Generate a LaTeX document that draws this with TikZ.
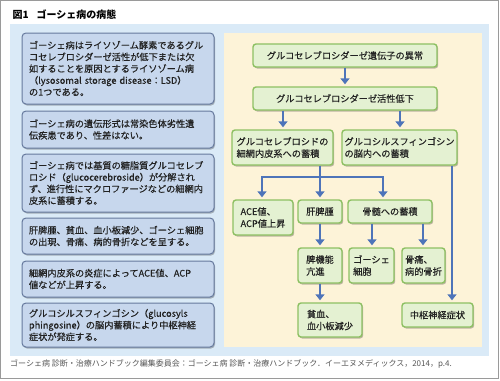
\documentclass[tikz,border=0pt]{standalone}
\usepackage{fontspec}
\setmainfont{Noto Sans CJK JP}
\newfontface\medfont{Noto Sans CJK JP}[FakeBold=0.35]
\usetikzlibrary{arrows.meta,shadows}
\definecolor{frame}{HTML}{9A9A9A}
\definecolor{panelblue}{HTML}{DAEAF7}
\definecolor{cream}{HTML}{FDF3D8}
\definecolor{lbfill}{HTML}{C7D7ED}
\definecolor{lbdraw}{HTML}{66799D}
\definecolor{gfill}{HTML}{E4F1D2}
\definecolor{gdraw}{HTML}{8DC062}
\definecolor{arrowblue}{HTML}{4E74B9}
\definecolor{txt}{HTML}{222222}
\definecolor{foot}{HTML}{555555}
\tikzset{
  leftbox/.style={draw=lbdraw, line width=1pt, fill=lbfill, rounded corners=4pt,
    minimum width=192pt, text width=178pt, align=left, inner sep=0pt, text=txt,
    font=\medfont\fontsize{9.2}{11.7}\selectfont,
    drop shadow={shadow xshift=1pt, shadow yshift=-1.5pt, fill=black, opacity=0.25}},
  gbox/.style={draw=gdraw, line width=1.4pt, fill=gfill, rounded corners=3pt,
    inner sep=0pt, align=left, text=txt,
    font=\medfont\fontsize{9.2}{12}\selectfont,
    drop shadow={shadow xshift=1.2pt, shadow yshift=-1.5pt, fill=black, opacity=0.25}},
  ln/.style={draw=arrowblue, line width=2.6pt},
  arr/.style={ln, -{Triangle[width=9pt,length=6pt]}},
}
\begin{document}
\begin{tikzpicture}[x=1pt,y=-1pt]
\useasboundingbox (0,0) rectangle (500,380);
\draw[frame, line width=1pt] (0.5,0.5) rectangle (498.5,378.5);
\node[anchor=west, font=\fontsize{10}{12}\selectfont\bfseries] (title) at (9,15) {図1\hspace{0.8em}ゴーシェ病の病態};
\fill[panelblue] (10,24) rectangle (489,356);
\fill[cream] (224,33) rectangle (482,347);

% left column
\node[leftbox, minimum height=71pt] (l1) at (118,68.5) {ゴーシェ病はライソゾーム酵素であるグル\\コセレブロシダーゼ活性が低下または欠\\如することを原因とするライソゾーム病\\\makebox[175pt][s]{（lysosomal storage disease：LSD）}\\の1つである。};
\node[leftbox, minimum height=37pt] (l2) at (118,129.5) {ゴーシェ病の遺伝形式は常染色体劣性遺\\伝疾患であり、性差はない。};
\node[leftbox, minimum height=58pt] (l3) at (118,183) {ゴーシェ病では基質の糖脂質グルコセレブ\\ロシド（glucocerebroside）が分解され\\ず、進行性にマクロファージなどの細網内\\皮系に蓄積する。};
\node[leftbox, minimum height=36pt] (l4) at (118,236) {肝脾腫、貧血、血小板減少、ゴーシェ細胞\\の出現、骨痛、病的骨折などを呈する。};
\node[leftbox, minimum height=36pt] (l5) at (118,279) {細網内皮系の炎症によってACE値、ACP\\値などが上昇する。};
\node[leftbox, minimum height=44pt] (l6) at (118,325) {グルコシルスフィンゴシン（glucosyls\\phingosine）の脳内蓄積により中枢神経\\症状が発症する。};

% flowchart
\node[gbox, minimum width=184pt, minimum height=23pt] (A) at (345,55.5) {グルコセレブロシダーゼ遺伝子の異常};
\node[gbox, minimum width=184pt, minimum height=23pt] (B) at (345,98.5) {グルコセレブロシダーゼ活性低下};
\node[gbox, minimum width=101pt, minimum height=35pt] (C) at (282.5,147.5) {グルコセレブロシドの\\細網内皮系への蓄積};
\node[gbox, minimum width=115pt, minimum height=35pt] (D) at (399.5,147.5) {グルコシルスフィンゴシン\\の脳内への蓄積};
\node[gbox, minimum width=60pt, minimum height=35pt] (E) at (263,217.5) {ACE値、\\ACP値上昇};
\node[gbox, minimum width=44pt, minimum height=23pt] (F) at (320,211.5) {肝脾腫};
\node[gbox, minimum width=84pt, minimum height=23pt] (G) at (390,211.5) {骨髄への蓄積};
\node[gbox, minimum width=44pt, minimum height=35pt] (H) at (320,265.5) {脾機能\\亢進};
\node[gbox, minimum width=45pt, minimum height=35pt] (I) at (371.5,265.5) {ゴーシェ\\細胞};
\node[gbox, minimum width=43pt, minimum height=35pt] (J) at (423.5,265.5) {骨痛、\\病的骨折};
\node[gbox, minimum width=64pt, minimum height=34pt] (K) at (330,320) {貧血、\\血小板減少};
\node[gbox, minimum width=71pt, minimum height=24pt] (L) at (437.5,315) {中枢神経症状};

\coordinate (jL) at (262,177);
\coordinate (jM) at (320,177);
\coordinate (jR) at (383,177);
\coordinate (bL) at (283,0);
\coordinate (bR) at (400,0);
\coordinate (dR) at (452,0);
\coordinate (gL) at (372,0);
\coordinate (gR) at (423,0);

\draw[arr] (A.south -| B.north) -- ([yshift=2pt]B.north);
\draw[arr] (B.south -| bL) -- ([yshift=2pt]C.north -| bL);
\draw[arr] (B.south -| bR) -- ([yshift=2pt]D.north -| bR);
\draw[ln] (C.south -| jM) -- (jM);
\draw[arr] (jM) -- ([yshift=2pt]F.north -| jM);
\draw[arr, line join=miter] (jM) -| ([yshift=2pt]E.north -| jL);
\draw[arr, line join=miter] (jM) -| ([yshift=2pt]G.north -| jR);
\draw[arr] (F.south -| jM) -- ([yshift=2pt]H.north -| jM);
\draw[arr] (G.south -| gL) -- ([yshift=2pt]I.north -| gL);
\draw[arr] (G.south -| gR) -- ([yshift=2pt]J.north -| gR);
\draw[arr] (H.south -| jM) -- ([yshift=2pt]K.north -| jM);
\draw[arr] (D.south -| dR) -- ([yshift=2pt]L.north -| dR);

\node[anchor=west, text=foot, font=\fontsize{8}{9.5}\selectfont, inner sep=0pt] (foot) at (10,364) {ゴーシェ病 診断・治療ハンドブック編集委員会：ゴーシェ病 診断・治療ハンドブック．イーエヌメディックス，2014，p.4.};
\end{tikzpicture}
\end{document}
